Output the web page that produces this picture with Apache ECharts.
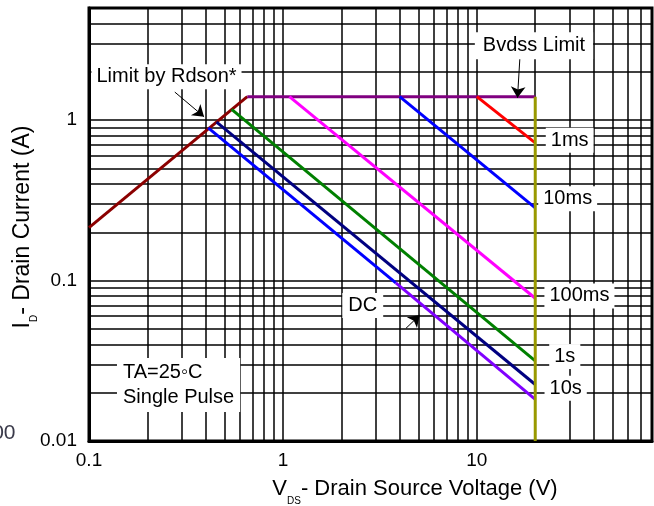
<!DOCTYPE html>
<html>
<head>
<meta charset="utf-8">
<script src="https://cdn.jsdelivr.net/npm/echarts@6/dist/echarts.min.js"></script>
<style>
html, body { margin: 0; padding: 0; background: #fff; }
#chart { width: 654px; height: 506px; }
</style>
</head>
<body>
<div id="chart"></div>
<script>
// grid lines (log decades)
var xGrid = [0.2, 0.3, 0.4, 0.5, 0.6, 0.7, 0.8, 0.9, 1, 2, 3, 4, 5, 6, 7, 8, 9, 10, 20, 30, 40, 50, 60, 70];
var yGrid = [0.02, 0.03, 0.04, 0.05, 0.06, 0.07, 0.08, 0.09, 0.1, 0.2, 0.3, 0.4, 0.5, 0.6, 0.7, 0.8, 0.9, 1, 2, 3, 4];

// SOA limits, V (volts) / I (amps)
var rdsonV = [0.1, 0.655];
var rdsonI = [0.214, 1.4];
var idmV = [0.655, 20];
var idmI = [1.4, 1.4];
var bvdssV = [20, 20];
var bvdssI = [1.4, 0.01];
var ms1V = [10, 20];
var ms1I = [1.4, 0.722];
var ms10V = [4.0, 20];
var ms10I = [1.4, 0.284];
var ms100V = [1.08, 20];
var ms100I = [1.4, 0.0776];
var s1V = [0.544, 20];
var s1I = [1.166, 0.0316];
var s10V = [0.455, 20];
var s10I = [0.972, 0.0225];
var dcV = [0.412, 3.82];
var dcI = [0.896, 0.0968];
var dcTailV = [3.82, 20];
var dcTailI = [0.0968, 0.0182];

var FONT = 'Liberation Sans, Arial, sans-serif';

function pair(v, i) {
    return v.map(function (x, k) { return [x, i[k]]; });
}

function curve(name, v, i, color) {
    return {
        name: name,
        type: 'line',
        data: pair(v, i),
        symbol: 'none',
        silent: true,
        z: 3,
        lineStyle: { color: color, width: 3 },
        itemStyle: { color: color }
    };
}

var myChart = echarts.init(document.getElementById('chart'));

var gridMarks = xGrid.map(function (v) { return { xAxis: v }; })
    .concat(yGrid.map(function (v) { return { yAxis: v }; }));

var option = {
    animation: false,
    grid: {
        left: 89, right: 2, top: 8, bottom: 65,
        show: true,
        borderColor: '#000',
        borderWidth: 3
    },
    xAxis: {
        type: 'log',
        logBase: 10,
        min: 0.1,
        max: 80,
        axisLine: { onZero: false, lineStyle: { color: '#000', width: 3 } },
        axisTick: { show: false },
        splitLine: { show: false },
        axisLabel: {
            showMaxLabel: false,
            margin: 10,
            color: '#000',
            fontSize: 19,
            fontFamily: FONT,
            formatter: function (v) { return String(+v.toPrecision(6)); }
        }
    },
    yAxis: {
        type: 'log',
        logBase: 10,
        min: 0.01,
        max: 5,
        axisLine: { onZero: false, lineStyle: { color: '#000', width: 3 } },
        axisTick: { show: false },
        splitLine: { show: false },
        axisLabel: {
            showMaxLabel: false,
            margin: 12,
            color: '#000',
            fontSize: 19,
            fontFamily: FONT,
            formatter: function (v) { return String(+v.toPrecision(6)); }
        }
    },
    graphic: [
        {
            type: 'text', x: 415, y: 489,
            style: {
                text: '{m|V}{s|DS}{m|- Drain Source Voltage (V)}',
                align: 'center', verticalAlign: 'middle',
                textAlign: 'center', textVerticalAlign: 'middle',
                rich: {
                    m: { fontSize: 22, fontFamily: FONT, fill: '#000' },
                    s: { fontSize: 10, fontFamily: FONT, fill: '#000', padding: [24, 0, 0, 0] }
                }
            }
        },
        {
            type: 'text', x: 23, y: 227, rotation: Math.PI / 2,
            style: {
                text: '{m|I}{s|D}{m|- Drain Current (A)}',
                align: 'center', verticalAlign: 'middle',
                textAlign: 'center', textVerticalAlign: 'middle',
                rich: {
                    m: { fontSize: 23, fontFamily: FONT, fill: '#000' },
                    s: { fontSize: 10, fontFamily: FONT, fill: '#000', padding: [23, 0, 0, 0] }
                }
            }
        },
        {
            type: 'text', x: 15.5, y: 433,
            style: {
                text: '00', align: 'right', verticalAlign: 'middle',
                textAlign: 'right', textVerticalAlign: 'middle',
                fontSize: 21, fontFamily: FONT, fill: '#3a3a4a'
            }
        }
    ],
    series: [
        {
            name: 'grid',
            type: 'line',
            data: [],
            silent: true,
            markLine: {
                silent: true,
                z: 1,
                symbol: 'none',
                label: { show: false },
                lineStyle: { color: '#000', width: 1.5, type: 'solid' },
                emphasis: { disabled: true },
                data: gridMarks
            }
        },
        curve('Rdson', rdsonV, rdsonI, '#8b0000'),
        curve('Idm', idmV, idmI, '#800080'),
        curve('1ms', ms1V, ms1I, '#ff0000'),
        curve('10ms', ms10V, ms10I, '#0000ff'),
        curve('100ms', ms100V, ms100I, '#ff00ff'),
        curve('1s', s1V, s1I, '#008000'),
        curve('10s', s10V, s10I, '#000080'),
        curve('DC', dcV, dcI, '#0000ff'),
        curve('DC2', dcTailV, dcTailI, '#8000ff'),
        curve('Bvdss', bvdssV, bvdssI, '#999900'),
        {
            name: 'arrows',
            type: 'line',
            data: [],
            silent: true,
            markLine: {
                silent: true,
                z: 6,
                symbol: ['none', 'arrow'],
                symbolSize: 11,
                label: { show: false },
                itemStyle: { color: '#000' },
                lineStyle: { color: '#000', width: 1, type: 'solid' },
                emphasis: { disabled: true },
                data: [
                    [{ coord: [0.277, 1.496] }, { coord: [0.392, 1.05] }],
                    [{ coord: [16.66, 2.42] }, { coord: [16.2, 1.38] }],
                    [{ coord: [4.31, 0.0504] }, { coord: [5.08, 0.061] }]
                ]
            }
        },
        {
            name: 'labels',
            type: 'line',
            data: [],
            silent: true,
            markPoint: {
                silent: true,
                z: 7,
                symbol: 'rect',
                symbolSize: 1,
                itemStyle: { color: 'rgba(0,0,0,0)' },
                label: {
                    show: true,
                    position: 'inside',
                    formatter: '{b}',
                    color: '#000',
                    fontSize: 20,
                    fontFamily: FONT,
                    backgroundColor: '#fff',
                    padding: [3, 5, 2, 5]
                },
                data: [
                    { name: 'Limit by Rdson*', coord: [0.251, 1.862] },
                    { name: 'Bvdss Limit', coord: [19.7, 2.91], label: { padding: [4, 8, 3, 8] } },
                    { name: '1ms', coord: [30.1, 0.75] },
                    { name: '10ms', coord: [29.4, 0.324] },
                    { name: '100ms', coord: [33.8, 0.0802] },
                    { name: 'DC', coord: [2.58, 0.07], label: { padding: [3, 6, 2, 6] } },
                    { name: '1s', coord: [28.4, 0.0336] },
                    { name: '10s', coord: [28.7, 0.02135] },
                    {
                        name: 'TA=25\u25e6C\nSingle Pulse', coord: [0.1394, 0.0223],
                        label: { align: 'left', lineHeight: 25, padding: [2, 6, 2, 6] }
                    }
                ]
            }
        }
    ]
};

myChart.setOption(option);
</script>
</body>
</html>
